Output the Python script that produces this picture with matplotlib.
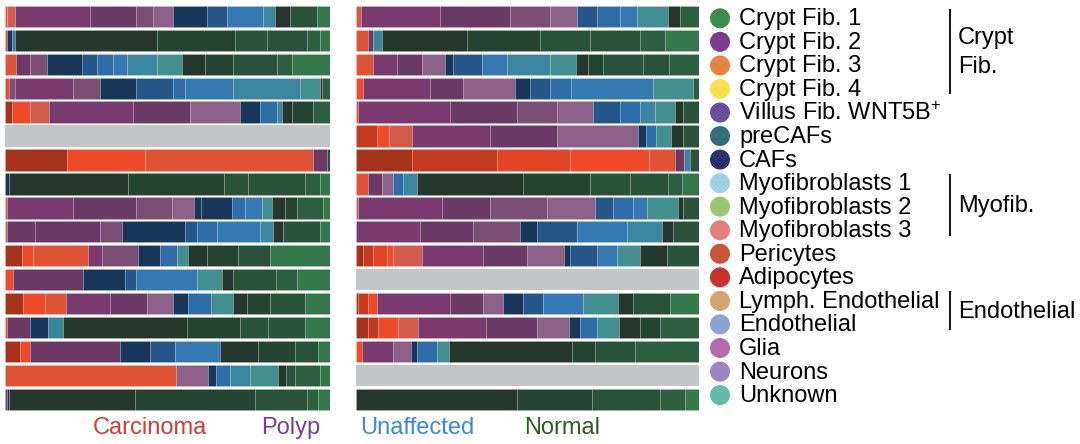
import matplotlib
matplotlib.use("Agg")
import matplotlib.pyplot as plt
from matplotlib.patches import Circle

plt.rcParams['font.family'] = ['Liberation Sans', 'DejaVu Sans']
plt.rcParams['mathtext.fontset'] = 'custom'
plt.rcParams['mathtext.rm'] = 'Liberation Sans'

# ---- data -------------------------------------------------------------
tissue_labels = ["Carcinoma", "Polyp", "Unaffected", "Normal"]
tissue_label_colors = ["#D13B33", "#7B3A93", "#3A87DB", "#2D5E1F"]

# shade palettes per tissue (dark -> light)
shade_colors = {
    "C0": "#A5331C", "C1": "#C33A1F", "C2": "#E24425", "C3": "#EE4A2A", "C4": "#DF5234", "C5": "#D35B4B",
    "P0": "#783A6F", "P1": "#6B3965", "P2": "#7B4E75", "P3": "#8C6089",
    "U0": "#16365A", "U1": "#245689", "U2": "#2D6EA8", "U3": "#3479B2", "U4": "#3A86A0", "U5": "#428F8F",
    "N0": "#25362C", "N1": "#254331", "N2": "#285239", "N3": "#2C5F40", "N4": "#33784B",
}
missing_color = "#C4C5C7"

# each row: list of (shade, percent); None = no sample
left_rows = [
    [("C3", .7), ("C5", 2.4), ("P0", 23.1), ("P1", 14.3), ("P2", 5.1), ("P3", 6.2), ("U0", 10.3), ("U1", 6.2), ("U3", 11.3), ("U4", 3.6), ("N0", 4.6), ("N2", 8.2), ("N4", 4.1)],
    [("C3", .7), ("U0", 1.6), ("U3", .7), ("N0", 43.6), ("N1", 24.1), ("N2", 9.7), ("N2", 12.3), ("N3", 4.1), ("N4", 3.1)],
    [("C4", 3.4), ("P1", 4.3), ("P2", 5.1), ("U0", 10.8), ("U1", 4.6), ("U2", 5.1), ("U3", 4.1), ("U4", 9.2), ("U5", 7.7), ("N0", 7.2), ("N1", 8.7), ("N2", 13.3), ("N3", 4.6), ("N4", 11.8)],
    [("C3", 1.3), ("P2", 1.7), ("P0", 17.9), ("P2", 8.2), ("U0", 11.3), ("U1", 11.3), ("U2", 3.6), ("U3", 14.9), ("U4", 20.5), ("U5", 6.2), ("N0", .5), ("N3", 2.6)],
    [("C0", 2.1), ("C3", 5.6), ("C5", 5.9), ("P0", 25.8), ("P1", 17.4), ("P3", 15.4), ("U0", 6.2), ("U2", 5.1), ("U4", 1.5), ("N0", 3.1), ("N1", 6.7), ("N3", 5.1)],
    None,
    [("C0", 19.0), ("C3", 24.1), ("C4", 51.8), ("P1", 4.1), ("N2", 1.0)],
    [("U0", 1.3), ("N0", 36.6), ("N1", 29.4), ("N2", 7.5), ("N2", 17.4), ("N3", 4.6), ("N4", 3.1)],
    [("C5", .5), ("P0", 20.5), ("P1", 19.5), ("P2", 11.3), ("P3", 6.7), ("U0", 2.1), ("U0", 9.7), ("U2", 4.1), ("U3", 5.1), ("U5", 3.1), ("N0", 4.1), ("N1", 3.6), ("N3", 8.2), ("N4", 2.1)],
    [("C5", .5), ("P1", 8.7), ("P1", 20.0), ("P2", 6.7), ("U0", 19.5), ("U1", 3.6), ("U2", 6.2), ("U3", 13.3), ("U4", 4.1), ("N0", 3.1), ("N2", 11.3), ("N4", 3.1)],
    [("C0", 5.1), ("C3", 3.6), ("C4", 16.9), ("P0", 4.1), ("P2", 11.3), ("U0", 6.5), ("U2", 5.3), ("U5", 3.6), ("N0", 5.6), ("N1", 9.7), ("N2", 9.7), ("N4", 18.5)],
    [("C3", 2.6), ("P1", 21.5), ("U0", 12.8), ("U1", 3.6), ("U3", 18.5), ("U5", 7.7), ("N0", 3.6), ("N2", 13.3), ("N3", 6.2), ("N4", 10.3)],
    [("C0", 5.6), ("C3", 6.7), ("C4", 6.5), ("P0", 13.5), ("P1", 11.3), ("P3", 8.2), ("U0", 4.6), ("U2", 7.2), ("U5", 6.7), ("N0", 4.1), ("N1", 7.2), ("N2", 10.8), ("N4", 7.7)],
    [("C3", .7), ("P1", 7.0), ("U0", 5.6), ("U4", 4.4), ("N0", 38.2), ("N1", 16.4), ("N2", 8.7), ("N2", 11.3), ("N4", 7.7)],
    [("C0", 4.6), ("C3", 3.1), ("P1", 27.7), ("U0", 9.2), ("U1", 7.7), ("U3", 13.8), ("N0", 11.8), ("N1", 11.3), ("N2", 7.2), ("N4", 3.6)],
    [("C4", 52.6), ("P3", 9.9), ("U0", 2.6), ("U2", 4.1), ("U4", 6.2), ("U5", 8.7), ("N0", 2.6), ("N2", 2.6), ("N3", 7.7), ("N4", 3.1)],
    [("P0", .7), ("U0", .6), ("N0", 38.7), ("N1", 36.9), ("N2", 15.9), ("N3", 3.6), ("N4", 3.6)],
]

right_rows = [
    [("C5", 1.4), ("P0", 23.1), ("P1", 20.4), ("P2", 11.7), ("P3", 7.8), ("U1", 5.8), ("U2", 6.8), ("U3", 4.9), ("U5", 9.2), ("N0", 3.4), ("N3", 5.5)],
    [("C4", 3.6), ("P1", 1.5), ("U4", 2.4), ("N0", 24.8), ("N1", 21.4), ("N2", 14.6), ("N2", 14.6), ("N3", 7.3), ("N4", 9.9)],
    [("C4", 4.9), ("P0", 7.0), ("P1", 7.3), ("P3", 6.8), ("U0", 2.4), ("U1", 8.3), ("U3", 7.3), ("U4", 12.6), ("U5", 7.6), ("N0", 3.6), ("N1", 4.4), ("N2", 11.7), ("N2", 7.3), ("N3", 8.9)],
    [("C3", 2.1), ("P0", 19.4), ("P1", 9.7), ("P3", 15.1), ("U0", 4.4), ("U1", 5.8), ("U2", 6.3), ("U3", 23.8), ("U5", 11.7), ("N3", 1.7)],
    [("C4", .7), ("P0", 26.7), ("P1", 19.4), ("P2", 11.7), ("P3", 10.7), ("U1", 7.8), ("U2", 5.8), ("U4", 4.4), ("U5", 5.8), ("N0", 2.4), ("N2", 4.6)],
    [("C1", 6.0), ("C3", 3.7), ("C5", 6.5), ("P0", 22.8), ("P1", 19.4), ("P3", 23.8), ("U0", 2.4), ("U2", 2.9), ("U5", 4.1), ("N0", 3.7), ("N2", 4.6)],
    [("C0", 16.2), ("C1", 24.8), ("C2", 21.4), ("C3", 22.8), ("C4", 7.8), ("P1", 2.4), ("U4", 1.9), ("N2", 2.6)],
    [("C4", 3.6), ("P1", 3.9), ("P3", 3.4), ("U2", 2.9), ("U4", 3.9), ("N0", 31.1), ("N1", 19.4), ("N2", 11.7), ("N2", 11.2), ("N3", 3.9), ("N4", 5.1)],
    [("C5", .7), ("P0", 24.3), ("P1", 14.1), ("P2", 16.5), ("P3", 14.1), ("U1", 5.3), ("U2", 5.8), ("U3", 3.9), ("U5", 9.2), ("N0", 1.5), ("N2", 4.6)],
    [("P0", 18.7), ("P1", 15.5), ("P2", 13.8), ("U0", 4.7), ("U1", 11.7), ("U3", 14.6), ("U4", 10.2), ("N0", 3.4), ("N2", 7.5)],
    [("C0", 2.1), ("C1", 2.9), ("C2", 3.9), ("C3", 1.9), ("C5", 8.3), ("P0", 18.0), ("P1", 12.6), ("P3", 10.9), ("U0", 1.7), ("U1", 7.8), ("U3", 5.8), ("U5", 6.8), ("N0", 7.8), ("N2", 9.4)],
    None,
    [("C0", .7), ("C1", 2.9), ("C3", 2.6), ("P0", 21.2), ("P1", 9.7), ("P3", 5.8), ("U0", 5.8), ("U1", 5.8), ("U3", 11.7), ("U5", 10.2), ("N0", 4.4), ("N2", 10.7), ("N4", 8.5)],
    [("C0", 3.6), ("C1", 2.9), ("C3", 5.8), ("C5", 5.8), ("P0", 19.9), ("P1", 14.6), ("P3", 9.5), ("U0", 3.1), ("U2", 4.9), ("U5", 6.6), ("N0", 6.0), ("N1", 5.8), ("N3", 11.4)],
    [("C3", 1.7), ("P0", 9.2), ("P3", 5.1), ("U0", 1.7), ("U2", 5.8), ("U5", 3.6), ("N0", 35.8), ("N1", 6.8), ("N2", 11.7), ("N3", 18.7)],
    None,
    [("N0", 46.8), ("N1", 21.9), ("N2", 19.9), ("N3", 7.3), ("N4", 4.1)],
]

legend_labels = ["Crypt Fib. 1", "Crypt Fib. 2", "Crypt Fib. 3", "Crypt Fib. 4",
                 "Villus Fib. WNT5B$\\mathregular{^{+}}$", "preCAFs", "CAFs",
                 "Myofibroblasts 1", "Myofibroblasts 2", "Myofibroblasts 3",
                 "Pericytes", "Adipocytes", "Lymph. Endothelial", "Endothelial",
                 "Glia", "Neurons", "Unknown"]
legend_colors = ["#3F8A4E", "#7B3B8E", "#E8823F", "#F7E04A", "#6A4E9E", "#2F7078",
                 "#2B2F6B", "#9FD3E3", "#9AC66E", "#E57F7E", "#C95335", "#C8312F",
                 "#D4A66E", "#8BA2D0", "#B56AA9", "#9B86BC", "#61BBA8"]
groups = [("Crypt\nFib.", 0, 3), ("Myofib.", 7, 9), ("Endothelial", 12, 13)]

# ---- figure -----------------------------------------------------------
W, H = 1080, 444
fig = plt.figure(figsize=(W / 100, H / 100), dpi=100)


def draw_panel(ax, rows):
    for i, row in enumerate(rows):
        if row is None:
            ax.barh(i, 100, left=0, height=0.89, color=missing_color, linewidth=0)
            continue
        total = sum(w for _, w in row)
        left = 0.0
        for shade, w in row:
            ww = w / total * 100
            ax.barh(i, ww, left=left, height=0.89, color=shade_colors[shade],
                    edgecolor=(1, 1, 1, 0.15), linewidth=0.6)
            left += ww
    ax.set_xlim(0, 100)
    ax.set_ylim(len(rows) - 0.5, -0.5)
    ax.axis('off')


top_px, bot_px = 4.4, 411.3
axL = fig.add_axes([5 / W, 1 - bot_px / H, 325 / W, (bot_px - top_px) / H])
axR = fig.add_axes([356 / W, 1 - bot_px / H, 343 / W, (bot_px - top_px) / H])
draw_panel(axL, left_rows)
draw_panel(axR, right_rows)

# bottom tissue labels
label_x = [150, 291, 417, 562]
for lab, col, x in zip(tissue_labels, tissue_label_colors, label_x):
    fig.text(x / W, 1 - 428 / H, lab, color=col, fontsize=17, ha='center', va='center')

# legend
lax = fig.add_axes([0, 0, 1, 1], facecolor='none')
lax.set_xlim(0, W)
lax.set_ylim(H, 0)
lax.axis('off')
y0, dy = 18.3, 23.55
for k, (lab, col) in enumerate(zip(legend_labels, legend_colors)):
    y = y0 + k * dy
    lax.add_patch(Circle((720, y), 10, color=col, linewidth=0))
    lax.text(739, y + 1, lab, fontsize=17, va='center', ha='left', color='black')

for lab, a, b in groups:
    ya = y0 + a * dy - 9.5
    yb = y0 + b * dy + 5.5
    lax.plot([950, 950], [ya, yb], color='black', lw=1.3, solid_capstyle='butt')
    lax.text(958, (ya + yb) / 2 + 1, lab, fontsize=17, va='center', ha='left',
             linespacing=1.45, color='black')

fig.savefig("out.png", dpi=100)
